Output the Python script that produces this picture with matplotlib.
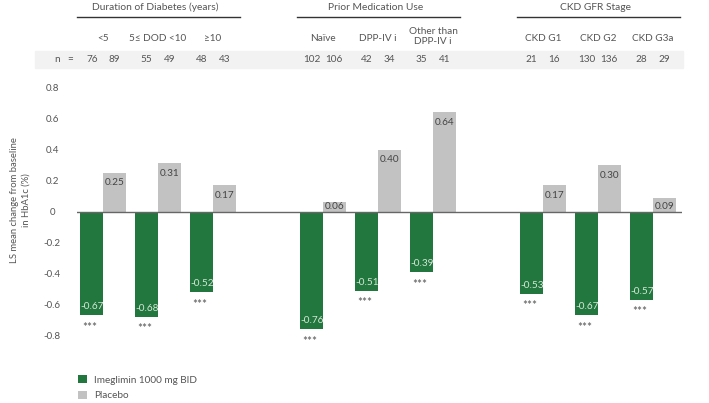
import matplotlib
matplotlib.use("Agg")
import matplotlib.pyplot as plt
from matplotlib.transforms import blended_transform_factory
from matplotlib.patches import Rectangle
from matplotlib.lines import Line2D

plt.rcParams['font.family'] = ['Lato', 'DejaVu Sans']

# ---- data ----
group_titles = ["Duration of Diabetes (years)", "Prior Medication Use", "CKD GFR Stage"]
categories = ["<5", "5≤ DOD <10", "≥10", "Naïve", "DPP-IV i", "Other than\nDPP-IV i",
              "CKD G1", "CKD G2", "CKD G3a"]
group_of_cat = [0, 0, 0, 1, 1, 1, 2, 2, 2]
imeglimin = [-0.67, -0.68, -0.52, -0.76, -0.51, -0.39, -0.53, -0.67, -0.57]
placebo = [0.25, 0.31, 0.17, 0.06, 0.40, 0.64, 0.17, 0.30, 0.09]
n_imeglimin = [76, 55, 48, 102, 42, 35, 21, 130, 28]
n_placebo = [89, 49, 43, 106, 34, 41, 16, 136, 29]
significance = ["***"] * 9
yticks = [0.8, 0.6, 0.4, 0.2, 0, -0.2, -0.4, -0.6, -0.8]
ytick_labels = ["0.8", "0.6", "0.4", "0.2", "0", "-0.2", "-0.4", "-0.6", "-0.8"]
series_names = ["Imeglimin 1000 mg BID", "Placebo"]

GREEN = "#22773F"
GREY = "#C2C2C2"
TXT = "#555555"

W, H = 709, 403
fig = plt.figure(figsize=(W / 100, H / 100), dpi=100)

def fx(px):
    return px / W

def fy(py):
    return 1 - py / H

ax_left, ax_right = 77, 682
ax_top, ax_bot = 87.5, 335.5
ax = fig.add_axes([fx(ax_left), fy(ax_bot), fx(ax_right - ax_left), (ax_bot - ax_top) / H])

# slot positions: one empty slot between groups
pos = [i + g for i, g in enumerate(group_of_cat)]
bw = 0.41
xg = [p - bw / 2 for p in pos]
xp = [p + bw / 2 for p in pos]

b1 = ax.bar(xg, imeglimin, width=bw, color=GREEN, label=series_names[0], zorder=2)
b2 = ax.bar(xp, placebo, width=bw, color=GREY, label=series_names[1], zorder=2)

ax.set_xlim(-0.473, 10.527)
ax.set_ylim(-0.8, 0.8)
ax.axhline(0, color="#666666", lw=1.0, zorder=3)

for s in ax.spines.values():
    s.set_visible(False)
ax.set_xticks([])
ax.set_yticks(yticks)
ax.set_yticklabels(ytick_labels)
ax.tick_params(axis='y', length=0, pad=18, labelsize=7, labelcolor=TXT)
for t in ax.get_yticklabels():
    t.set_horizontalalignment('center')

fs = 7.2
for x, v in zip(xg, imeglimin):
    ax.text(x, v + 0.055, f"{v:.2f}", ha='center', va='center', fontsize=fs,
            color="#D5E8D5", zorder=4)
for x, v, s in zip(xg, imeglimin, significance):
    ax.text(x - 0.04, v - 0.078, s, ha='center', va='center', fontsize=8.5, color=TXT,
            clip_on=False, zorder=4)
for x, v in zip(xp, placebo):
    ax.text(x, max(v - 0.065, 0.035), f"{v:.2f}", ha='center', va='center', fontsize=fs,
            color="#444444", zorder=4)

# header
tr = blended_transform_factory(ax.transData, fig.transFigure)
fig.patches.append(Rectangle((fx(35), fy(68)), fx(683 - 35), (68 - 51) / H,
                             transform=fig.transFigure, color="#F2F2F2", zorder=-5))
fig.text(fx(57), fy(59.5), "n", ha='center', va='center', fontsize=fs, color=TXT)
fig.text(fx(70), fy(59.5), "=", ha='center', va='center', fontsize=fs, color=TXT)
for x, n in zip(xg, n_imeglimin):
    ax.text(x, fy(59.5), str(n), transform=tr, ha='center', va='center', fontsize=fs, color=TXT)
for x, n in zip(xp, n_placebo):
    ax.text(x, fy(59.5), str(n), transform=tr, ha='center', va='center', fontsize=fs, color=TXT)
for p, c in zip(pos, categories):
    yy = 36.5 if "\n" in c else 38.5
    ax.text(p, fy(yy), c, transform=tr, ha='center', va='center', fontsize=fs,
            color=TXT, linespacing=1.1)
for g, title in enumerate(group_titles):
    ps = [p for p, gg in zip(pos, group_of_cat) if gg == g]
    ax.text((ps[0] + ps[-1]) / 2 - 0.05, fy(7.5), title, transform=tr, ha='center',
            va='center', fontsize=7.4, color=TXT)
    fig.add_artist(Line2D([ps[0] - 0.48, ps[-1] + 0.49], [fy(17), fy(17)],
                          transform=tr, color="#333333", lw=1.0))

fig.text(fx(20), fy(200), "LS mean change from baseline\nin HbA1c (%)", rotation=90,
         ha='center', va='center', fontsize=6.8, color=TXT, multialignment='center',
         linespacing=1.35)

fig.legend(handles=[b1, b2], loc='upper left', bbox_to_anchor=(fx(74), fy(371)),
           frameon=False, fontsize=fs, labelcolor=TXT, handlelength=0.9,
           handleheight=0.9, handletextpad=0.7, labelspacing=0.6, borderaxespad=0)

fig.savefig("out.png", dpi=100)
